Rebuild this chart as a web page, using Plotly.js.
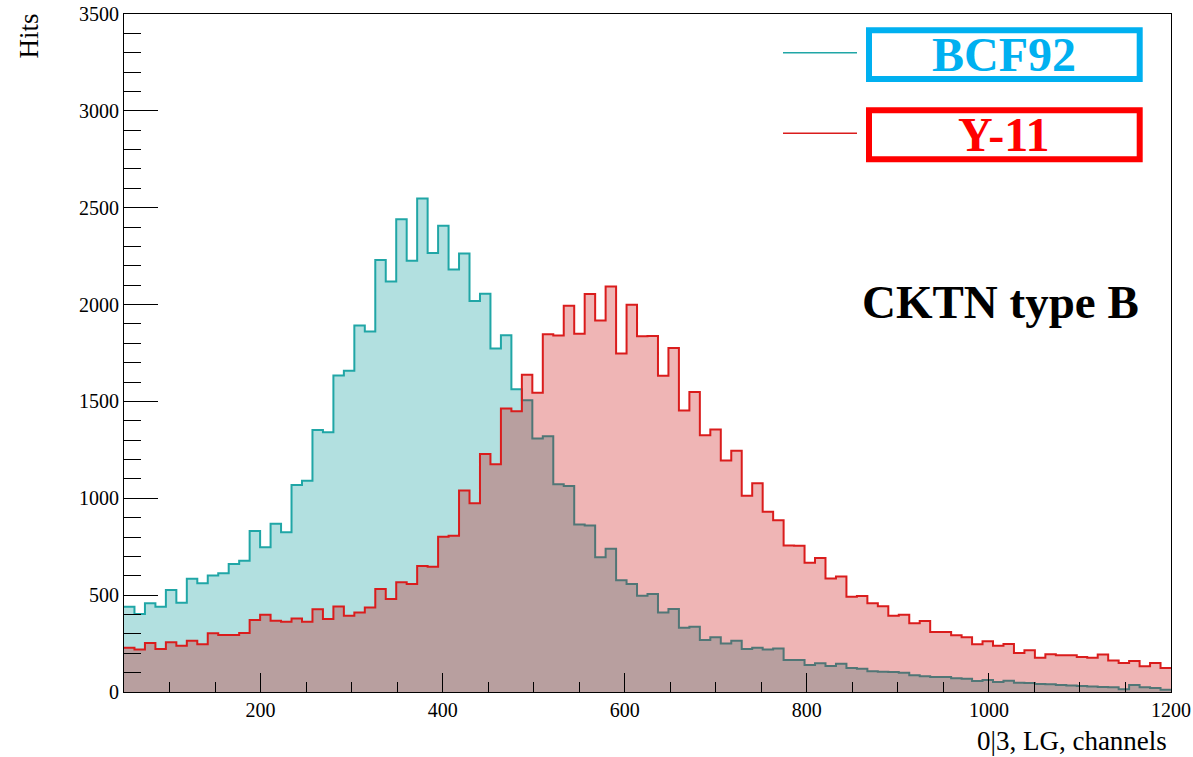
<!DOCTYPE html>
<html>
<head>
<meta charset="utf-8">
<script src="https://cdn.plot.ly/plotly-3.0.1.min.js"></script>
<style>html,body{margin:0;padding:0;background:#fff;}#chart{width:1193px;height:757px;}</style>
</head>
<body>
<div id="chart"></div>
<script>
// Histogram binning: 100 bins from 50 to 1200
const binStart = 50;
const binWidth = 11.5;

// BCF92 counts per bin
const bcf92 = [
  440, 403, 458, 440, 527, 461, 584, 561, 601, 613,
  661, 677, 831, 747, 869, 825, 1069, 1090, 1353, 1341,
  1634, 1658, 1892, 1861, 2230, 2119, 2441, 2226, 2548, 2266,
  2407, 2181, 2264, 2019, 2056, 1773, 1842, 1563, 1506, 1308,
  1320, 1073, 1064, 865, 860, 695, 739, 577, 558, 497,
  506, 410, 429, 332, 337, 269, 282, 251, 265, 222,
  229, 220, 225, 165, 165, 139, 148, 134, 146, 124,
  120, 107, 105, 103, 100, 86, 81, 77, 77, 71,
  69, 57, 62, 52, 58, 48, 46, 41, 40, 36,
  34, 31, 28, 26, 24, 14, 36, 24, 21, 12
];

// Y-11 counts per bin
const y11 = [
  229, 220, 253, 222, 257, 239, 265, 246, 303, 294,
  294, 305, 372, 399, 368, 363, 380, 363, 427, 377,
  442, 393, 411, 436, 532, 480, 567, 558, 651, 647,
  802, 807, 1040, 975, 1228, 1176, 1463, 1449, 1638, 1545,
  1847, 1840, 1994, 1849, 2054, 1918, 2093, 1747, 1999, 1836,
  1838, 1632, 1776, 1453, 1549, 1325, 1355, 1195, 1246, 1013,
  1078, 930, 887, 756, 755, 667, 692, 586, 596, 492,
  496, 458, 443, 393, 399, 355, 367, 310, 310, 293,
  282, 246, 262, 239, 248, 201, 215, 177, 195, 190,
  190, 181, 177, 193, 162, 150, 160, 133, 150, 124
];

const seriesNames = ["BCF92", "Y-11"];
const xTitle = "0|3, LG, channels";
const yTitle = "Hits";
const label = "CKTN type B";

function edges(n) {
  const e = [];
  for (let i = 0; i <= n; i++) e.push(binStart + binWidth * i);
  return e;
}
function stepY(v) { return v.concat([v[v.length - 1]]); }

const serif = "Liberation Serif, Times New Roman, serif";

const traces = [
  {
    type: "scatter", mode: "lines", name: seriesNames[0],
    x: edges(bcf92.length), y: stepY(bcf92),
    line: {shape: "hv", color: "#20a6a6", width: 2},
    fill: "tozeroy", fillcolor: "rgba(0,153,153,0.3)",
    hoverinfo: "x+y"
  },
  {
    type: "scatter", mode: "lines", name: seriesNames[1],
    x: edges(y11.length), y: stepY(y11),
    line: {shape: "hv", color: "#da1c1c", width: 2},
    fill: "tozeroy", fillcolor: "rgba(200,0,0,0.29)",
    hoverinfo: "x+y"
  }
];

// pixel helpers for paper coords
const L = 124, R = 1171, T = 14, B = 692;
const px = v => (v - L) / (R - L);
const py = v => (B - v) / (B - T);

const layout = {
  width: 1193, height: 757,
  margin: {l: 124, r: 22, t: 14, b: 65, pad: 0},
  paper_bgcolor: "#ffffff", plot_bgcolor: "#ffffff",
  showlegend: false,
  font: {family: serif, color: "#000", size: 20},
  xaxis: {
    range: [50, 1200], tick0: 0, dtick: 200,
    ticks: "inside", ticklen: 19, tickwidth: 1, tickcolor: "#000",
    minor: {ticks: "inside", ticklen: 10, dtick: 50, tickcolor: "#000", tickwidth: 1},
    showline: true, mirror: true, linecolor: "#000", linewidth: 1,
    showgrid: false, zeroline: false,
    tickfont: {family: serif, size: 20, color: "#000"}
  },
  yaxis: {
    range: [0, 3500], tick0: 0, dtick: 500,
    ticks: "inside", ticklen: 34, tickwidth: 1, tickcolor: "#000",
    minor: {ticks: "inside", ticklen: 17, dtick: 100, tickcolor: "#000", tickwidth: 1},
    showline: true, mirror: true, linecolor: "#000", linewidth: 1,
    showgrid: false, zeroline: false,
    tickfont: {family: serif, size: 20, color: "#000"}
  },
  shapes: [
    {type: "line", xref: "paper", yref: "paper", x0: px(783), x1: px(857), y0: py(52.7), y1: py(52.7), line: {color: "#20a6a6", width: 1.5}},
    {type: "line", xref: "paper", yref: "paper", x0: px(783), x1: px(857), y0: py(133.3), y1: py(133.3), line: {color: "#da1c1c", width: 1.5}},
    {type: "rect", xref: "paper", yref: "paper", x0: px(869), x1: px(1139.7), y0: py(30.3), y1: py(79), line: {color: "#00b0f0", width: 6}, fillcolor: "rgba(0,0,0,0)"},
    {type: "rect", xref: "paper", yref: "paper", x0: px(869), x1: px(1139.7), y0: py(110.3), y1: py(159.3), line: {color: "#ff0000", width: 6}, fillcolor: "rgba(0,0,0,0)"}
  ],
  annotations: [
    {xref: "paper", yref: "paper", x: px(1004.3), y: py(54.5), xanchor: "center", yanchor: "middle", showarrow: false,
     text: "<b>" + seriesNames[0] + "</b>", font: {family: serif, size: 48, color: "#00b0f0"}},
    {xref: "paper", yref: "paper", x: px(1004.3), y: py(134.5), xanchor: "center", yanchor: "middle", showarrow: false,
     text: "<b>" + seriesNames[1] + "</b>", font: {family: serif, size: 48, color: "#ff0000"}},
    {xref: "paper", yref: "paper", x: px(1141), y: py(302), xanchor: "right", yanchor: "middle", showarrow: false,
     text: "<b>" + label + "</b>", font: {family: serif, size: 47, color: "#000"}},
    {xref: "paper", yref: "paper", x: px(1169), y: py(741), xanchor: "right", yanchor: "middle", showarrow: false,
     text: xTitle, font: {family: serif, size: 27, color: "#000"}},
    {xref: "paper", yref: "paper", x: px(28), y: py(12), xanchor: "center", yanchor: "top", showarrow: false, textangle: -90,
     text: yTitle, font: {family: serif, size: 27, color: "#000"}}
  ]
};

Plotly.newPlot("chart", traces, layout, {displayModeBar: false, staticPlot: true});
</script>
</body>
</html>
